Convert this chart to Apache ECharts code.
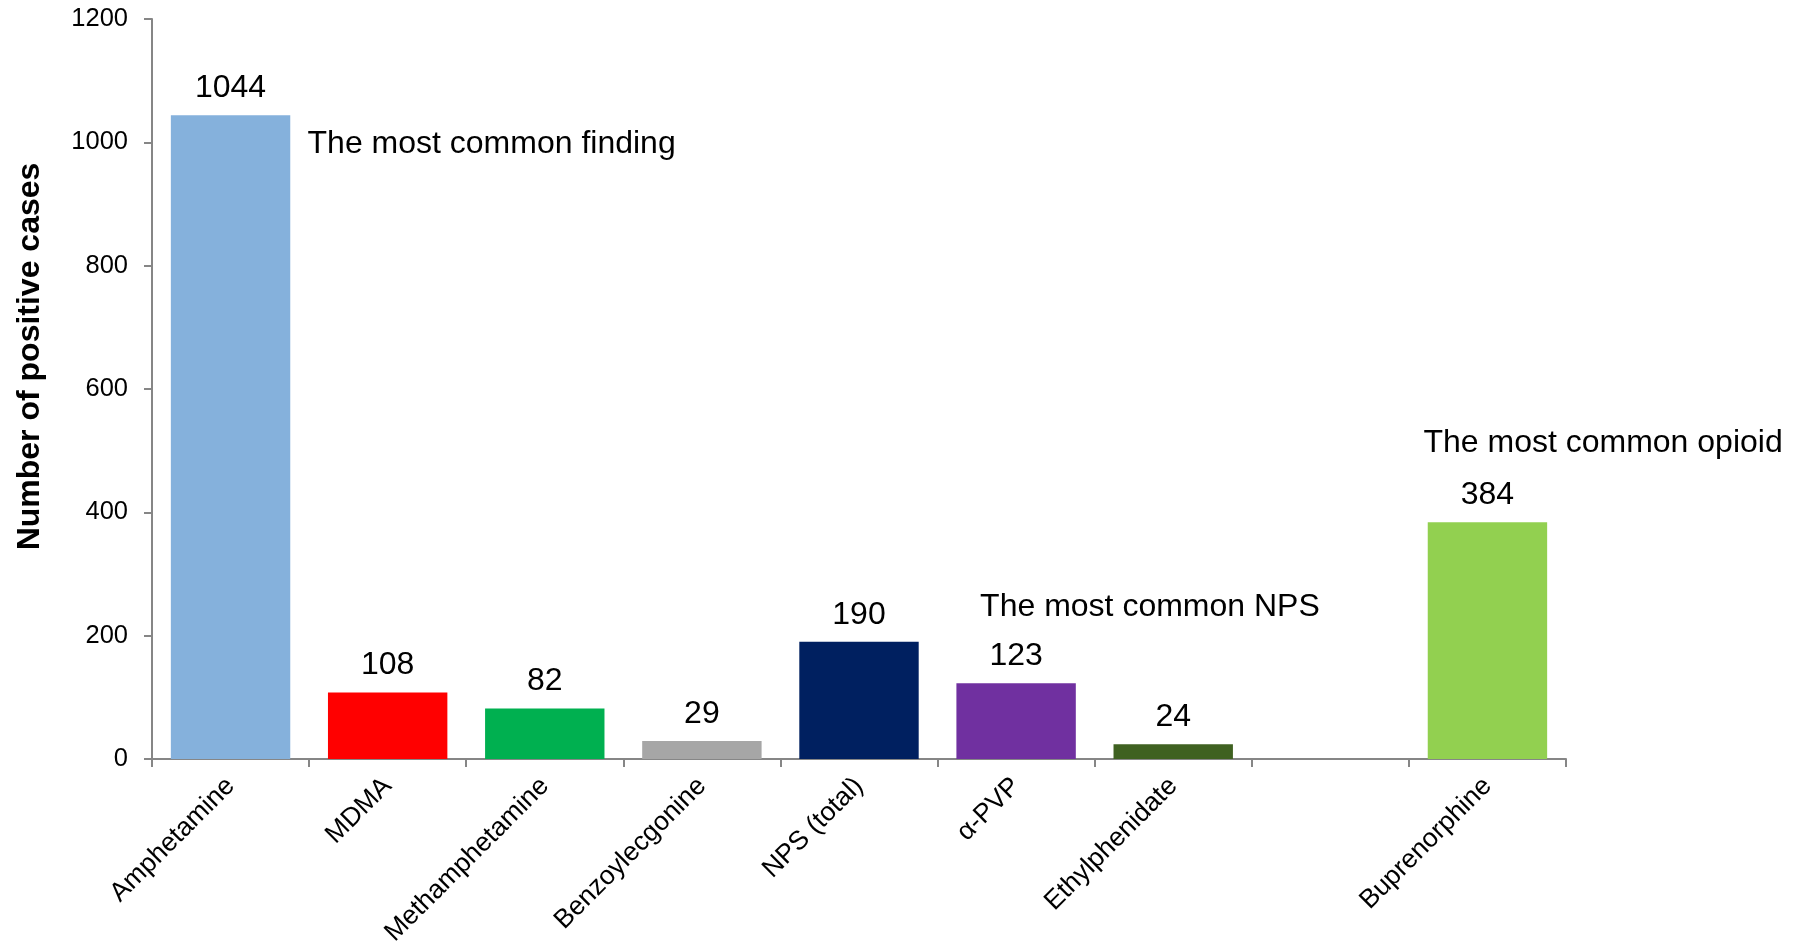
<!DOCTYPE html>
<html>
<head>
<meta charset="utf-8">
<script src="https://cdn.jsdelivr.net/npm/echarts@6/dist/echarts.min.js"></script>
<style>
html,body{margin:0;padding:0;background:#fff;}
#chart{width:1805px;height:944px;}
</style>
</head>
<body>
<div id="chart"></div>
<script>
// ---- data ----
const categories = ['Amphetamine', 'MDMA', 'Methamphetamine', 'Benzoylecgonine', 'NPS (total)', 'α-PVP', 'Ethylphenidate', '', 'Buprenorphine'];
const values = [1044, 108, 82, 29, 190, 123, 24, null, 384];
const barColors = ['#85B1DC', '#FF0000', '#00B050', '#A6A6A6', '#002060', '#7030A0', '#3F6121', '#FFFFFF', '#92D050'];
const yTicks = { min: 0, max: 1200, interval: 200 };
const yTitle = 'Number of positive cases';
const annotations = [
  { text: 'The most common finding', category: 'Amphetamine', value: 1000, dx: 77 },
  { text: 'The most common NPS', category: 'α-PVP', value: 250, dx: -36 },
  { text: 'The most common opioid', category: 'Buprenorphine', value: 515, dx: -64 }
];

const FONT = '"Liberation Sans", Arial, sans-serif';
const chart = echarts.init(document.getElementById('chart'), null, { renderer: 'canvas' });

chart.setOption({
  backgroundColor: '#ffffff',
  animation: false,
  textStyle: { fontFamily: FONT },
  grid: { left: 152, right: 239, top: 19, bottom: 185, containLabel: false, outerBoundsMode: 'none' },
  xAxis: {
    type: 'category',
    data: categories,
    axisLine: { lineStyle: { color: '#868686', width: 2 } },
    axisTick: { show: true, alignWithLabel: false, length: 8, lineStyle: { color: '#868686', width: 2 } },
    axisLabel: { rotate: 45, fontSize: 26.5, color: '#000', margin: 23, fontFamily: FONT, interval: 0 },
    splitLine: { show: false }
  },
  yAxis: {
    type: 'value',
    min: yTicks.min, max: yTicks.max, interval: yTicks.interval,
    name: yTitle,
    nameLocation: 'middle',
    nameRotate: 90,
    nameGap: 106,
    nameTextStyle: { fontSize: 32, fontWeight: 'bold', color: '#000', fontFamily: FONT, padding: [0, 0, 0, 65] },
    axisLine: { show: true, lineStyle: { color: '#868686', width: 2 } },
    axisTick: { show: true, length: 8, lineStyle: { color: '#868686', width: 2 } },
    axisLabel: { fontSize: 25.5, color: '#000', margin: 24, fontFamily: FONT, formatter: v => String(v) },
    splitLine: { show: false }
  },
  series: [{
    type: 'bar',
    data: values.map((v, i) => ({ value: v, itemStyle: { color: barColors[i] } })),
    barWidth: '76%',
    label: { show: true, position: 'top', distance: 11, fontSize: 32, color: '#000', fontFamily: FONT },
    markPoint: {
      symbol: 'circle',
      symbolSize: 0,
      silent: true,
      data: annotations.map(a => ({
        coord: [a.category, a.value],
        label: {
          show: true,
          position: 'right',
          distance: 0,
          offset: [a.dx, 2],
          formatter: a.text,
          fontSize: 32,
          color: '#000',
          fontFamily: FONT
        }
      }))
    }
  }]
});
</script>
</body>
</html>
